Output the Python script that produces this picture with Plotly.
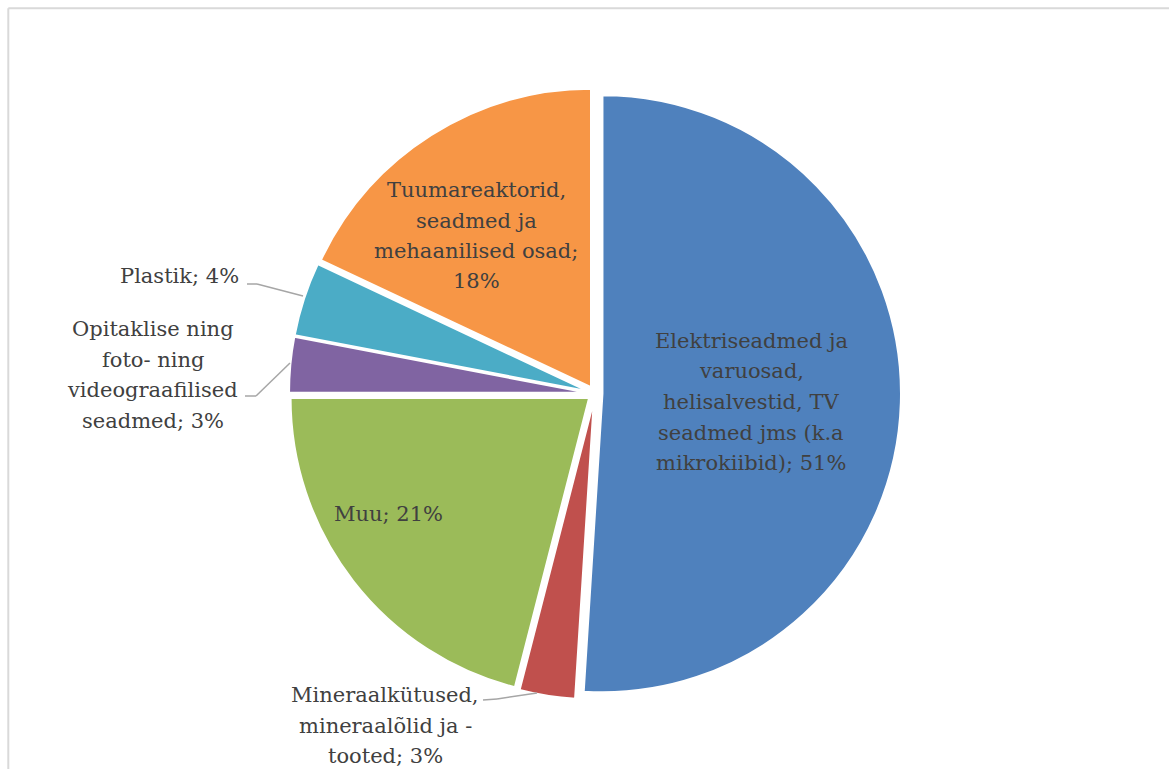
import plotly.graph_objects as go

# Kaubagruppide osakaal (%)
categories = [
    "Elektriseadmed ja varuosad, helisalvestid, TV seadmed jms (k.a mikrokiibid)",
    "Mineraalkütused, mineraalõlid ja -tooted",
    "Muu",
    "Opitaklise ning foto- ning videograafilised seadmed",
    "Plastik",
    "Tuumareaktorid, seadmed ja mehaanilised osad",
]
values = [51, 3, 21, 3, 4, 18]
colors = ["#4F81BD", "#C0504D", "#9BBB59", "#8064A2", "#4BACC6", "#F79646"]

# Wrapped label lines; "{pct}" is replaced by the slice value
label_lines = [
    ["Elektriseadmed ja", "varuosad,", "helisalvestid, TV", "seadmed jms (k.a", "mikrokiibid); {pct}"],
    ["Mineraalkütused,", "mineraalõlid ja -", "tooted; {pct}"],
    ["Muu; {pct}"],
    ["Opitaklise ning", "foto- ning", "videograafilised", "seadmed; {pct}"],
    ["Plastik; {pct}"],
    ["Tuumareaktorid,", "seadmed ja", "mehaanilised osad;", "{pct}"],
]

W, H = 1169, 769
FONT = "DejaVu Serif"
TEXT_COLOR = "#404040"
FS = 21
LINE_STEP = 30.5


def px(x):
    return x / W


def py(y):
    return 1 - y / H


fig = go.Figure(
    go.Pie(
        labels=categories,
        values=values,
        sort=False,
        direction="clockwise",
        rotation=0,
        pull=0.025,
        marker=dict(colors=colors, line=dict(color="#FFFFFF", width=2)),
        textinfo="none",
        hoverinfo="skip",
        showlegend=False,
        domain=dict(x=[px(289), px(901)], y=[py(699.5), py(87.5)]),
    )
)

# label anchor: (x, first baseline, xanchor)
label_pos = [
    (751, 349, "center"),
    (385, 703, "center"),
    (388.5, 522, "center"),
    (152.5, 337, "center"),
    (240, 284, "right"),
    (476, 198, "center"),
]

annotations = []
for lines, v, (x, y0, xa) in zip(label_lines, values, label_pos):
    for i, line in enumerate(lines):
        txt = line.replace("{pct}", f"{v}%")
        annotations.append(
            dict(
                x=px(x), y=py(y0 + i * LINE_STEP - 8),
                xref="paper", yref="paper",
                xanchor=xa, yanchor="middle",
                text=txt, showarrow=False, borderpad=0,
                font=dict(family=FONT, size=FS, color=TEXT_COLOR),
            )
        )

# leader lines for the small outside labels
leaders = [
    [(247, 284), (257, 284), (303, 296)],
    [(245, 396), (256, 396), (290, 363)],
    [(483, 700), (497, 699), (537, 693)],
]
shapes = []
for pts in leaders:
    for (xa, ya), (xb, yb) in zip(pts[:-1], pts[1:]):
        shapes.append(dict(type="line", xref="paper", yref="paper",
                           x0=px(xa), y0=py(ya), x1=px(xb), y1=py(yb),
                           line=dict(color="#A6A6A6", width=1.5)))

# chart frame
frame_color = "#D9D9D9"
shapes.append(dict(type="line", xref="paper", yref="paper",
                   x0=px(8.3), y0=py(8.3), x1=px(W), y1=py(8.3),
                   line=dict(color=frame_color, width=2)))
shapes.append(dict(type="line", xref="paper", yref="paper",
                   x0=px(8.3), y0=py(8.3), x1=px(8.3), y1=py(H),
                   line=dict(color=frame_color, width=2)))

fig.update_layout(
    width=W, height=H,
    margin=dict(l=0, r=0, t=0, b=0),
    paper_bgcolor="#FFFFFF",
    plot_bgcolor="#FFFFFF",
    annotations=annotations,
    shapes=shapes,
)

fig.write_html("out.html")
